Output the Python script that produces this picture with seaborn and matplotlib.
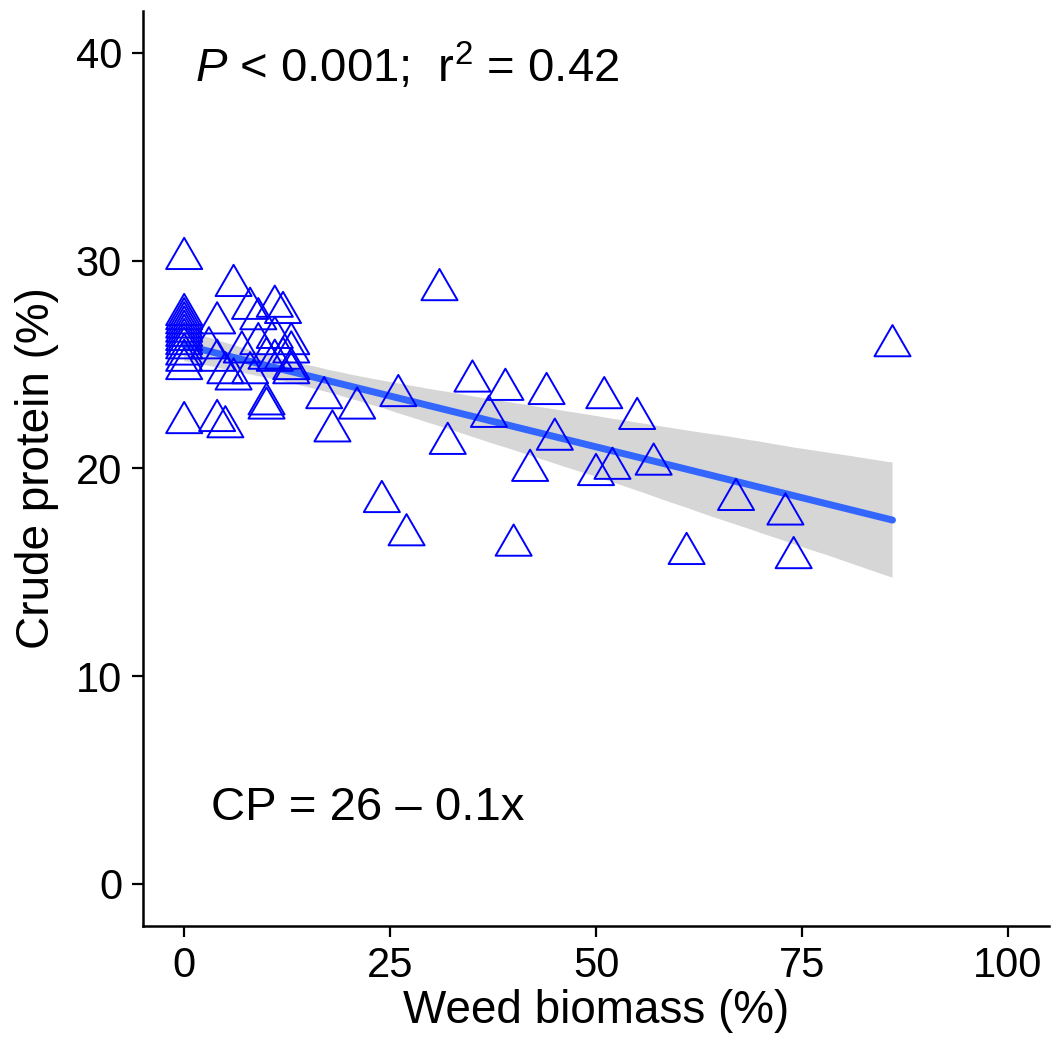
import numpy as np
import pandas as pd
import matplotlib
matplotlib.use("Agg")
import matplotlib.pyplot as plt
from matplotlib.path import Path
import seaborn as sns

# ---- data ----
weed_biomass = [0, 0, 0, 0, 0, 0, 0, 0, 0, 0, 0, 0, 0, 0,
                3, 4, 4, 4, 5, 5, 6, 6, 7, 8, 8, 9, 9, 10, 10, 10,
                11, 11, 11, 12, 12, 13, 13, 13, 13,
                17, 18, 21, 24, 26, 27, 31, 32, 35, 37, 39, 40, 42, 44, 45,
                50, 51, 52, 55, 57, 61, 67, 73, 74, 86]
crude_protein = [30.1, 27.4, 27.2, 27.0, 26.8, 26.6, 26.4, 26.2, 26.0, 25.8, 25.5, 25.2, 24.8, 22.2,
                 25.8, 27.0, 25.2, 22.3, 24.6, 22.0, 28.8, 24.3, 25.6, 27.7, 24.6, 27.2, 26.0, 25.3, 23.1, 22.9,
                 27.8, 26.3, 25.2, 27.5, 25.3, 26.0, 24.8, 24.6, 25.6,
                 23.4, 21.8, 22.9, 18.4, 23.5, 16.8, 28.6, 21.2, 24.2, 22.5, 23.8, 16.3, 19.9, 23.6, 21.4,
                 19.7, 23.4, 20.0, 22.4, 20.2, 15.9, 18.5, 17.8, 15.7, 25.9]

x_ticks = [0, 25, 50, 75, 100]
y_ticks = [0, 10, 20, 30, 40]
x_label = "Weed biomass (%)"
y_label = "Crude protein (%)"
stat_text = r"$\mathit{P}$ < 0.001;  r$^{2}$ = 0.42"
eq_text = "CP = 26 – 0.1x"

df = pd.DataFrame({"weed": weed_biomass, "cp": crude_protein})

sns.set_theme(style="ticks")
plt.rcParams["font.family"] = ["Liberation Sans", "DejaVu Sans"]
plt.rcParams["mathtext.fontset"] = "custom"
plt.rcParams["mathtext.rm"] = "Liberation Sans"
plt.rcParams["mathtext.it"] = "Liberation Sans:italic"

fig = plt.figure(figsize=(10.53, 10.46), dpi=100)
ax = fig.add_axes([0.1358, 0.1152, 0.9962 - 0.1358, 0.9891 - 0.1152])

# regression line with confidence band
sns.regplot(data=df, x="weed", y="cp", ax=ax, scatter=False, ci=95, seed=7,
            n_boot=2000,
            color="#3366FF", line_kws=dict(color="#3366FF", lw=5, zorder=2))
for coll in ax.collections:
    coll.set_facecolor("#D6D6D6")
    coll.set_alpha(1)
    coll.set_edgecolor("none")
    coll.set_zorder(1)

# open triangles centered on their centroid (like R's pch 2)
tri = Path([(0, 1), (-0.866, -0.5), (0.866, -0.5), (0, 1)], closed=True)
sns.scatterplot(data=df, x="weed", y="cp", ax=ax, marker=tri, s=900,
                facecolors="none", edgecolor="#0000FF", linewidth=1.4, zorder=3)

ax.set_xlim(-5, 105)
ax.set_ylim(-2, 42)
ax.set_xticks(x_ticks)
ax.set_yticks(y_ticks)
ax.tick_params(axis="both", which="major", labelsize=30, length=8, width=1.6,
               color="black", labelcolor="black", direction="out", pad=7)
for side in ["left", "bottom"]:
    ax.spines[side].set_linewidth(1.8)
    ax.spines[side].set_color("black")
sns.despine(ax=ax)

ax.set_xlabel(x_label, fontsize=33, color="black", labelpad=2)
ax.set_ylabel(y_label, fontsize=33, color="black", labelpad=12)

ax.text(1.3, 38.6, stat_text, fontsize=34, color="black", ha="left", va="baseline")
ax.text(3.2, 3.1, eq_text, fontsize=34, color="black", ha="left", va="baseline")

fig.savefig("out.png", dpi=100)
